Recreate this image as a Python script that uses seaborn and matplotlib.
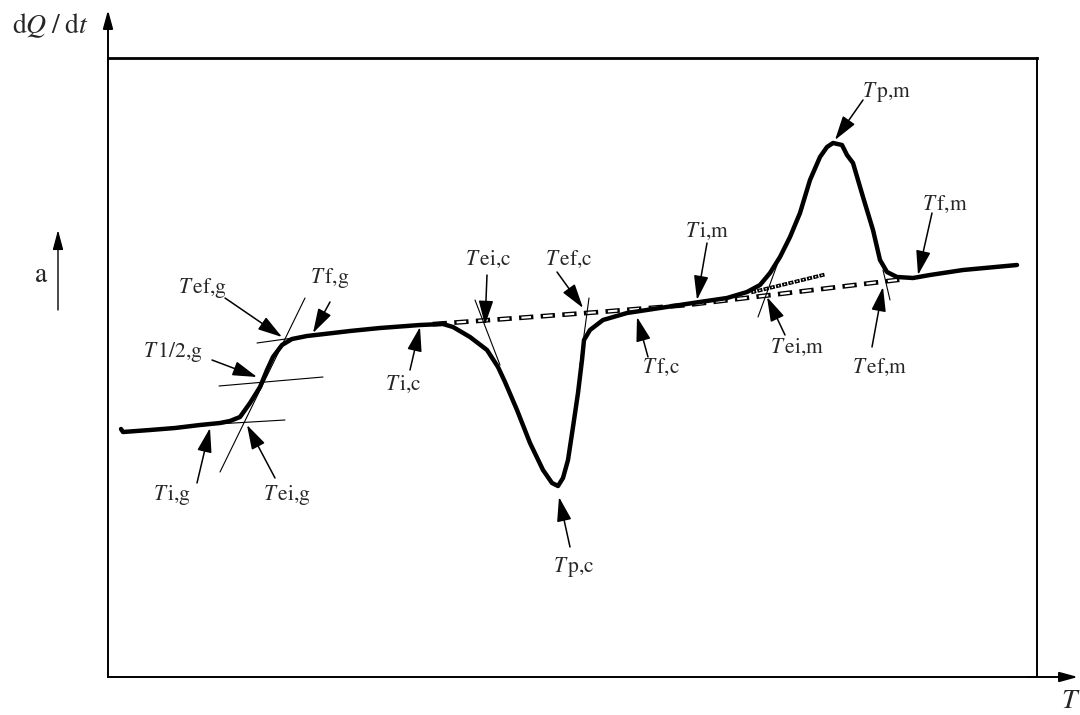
import numpy as np
import pandas as pd
import matplotlib
matplotlib.use("Agg")
import matplotlib.pyplot as plt
import matplotlib.patheffects as pe
import seaborn as sns

# ---------------- data (arbitrary units, schematic DSC curve) ----------------
curve_T = [1.3, 1.5, 4.2, 6.7, 9.2, 11.2, 12.2, 13.2, 14.2, 15.2, 15.9, 16.5, 17.4, 18.4, 19.9,
           22.5, 24.2, 27.2, 31.2, 33.5,
           34.5, 36.2, 37.9, 39.0, 39.7, 40.9, 42.2, 43.5, 44.4, 45.0, 45.5, 46.0, 46.5,
           47.0, 47.4, 47.6, 48.2, 49.5, 51.9, 55.2, 58.5, 61.9, 63.9,
           65.2, 66.2, 67.2, 68.2, 69.2, 70.2, 71.2, 71.9, 72.5, 73.4, 73.9, 74.5, 75.0,
           75.5, 76.5, 77.2, 77.9, 78.9, 80.5, 82.2, 85.5, 90.9]
curve_Q = [24.8, 24.5, 24.7, 24.9, 25.2, 25.4, 25.6, 26.0, 27.4, 29.0, 30.7, 32.0, 33.2, 33.8, 34.1,
           34.4, 34.6, 34.9, 35.2, 35.3,
           35.0, 34.0, 32.7, 31.0, 29.5, 26.7, 23.4, 20.7, 19.4, 19.1, 19.9, 21.7, 25.0,
           28.4, 31.7, 33.7, 34.7, 35.7, 36.4, 36.9, 37.4, 37.9, 38.5,
           39.2, 40.4, 42.0, 44.0, 46.4, 49.7, 52.0, 53.0, 53.4, 53.2, 52.2, 51.4, 49.7,
           48.0, 44.7, 41.7, 40.5, 40.0, 39.9, 40.2, 40.7, 41.2]

# interpolated (virtual) baseline, dashed
base_T = [32.7, 49.2, 57.9, 78.9]
base_Q = [35.3, 36.5, 37.2, 39.7]
# sigmoidal baseline start, dotted
sig_T = [64.5, 71.9]
sig_Q = [38.5, 40.3]

# construction tangents (pairs of points)
tan_T = [[11.2, 19.7], [9.2, 17.7], [11.1, 21.5], [14.9, 19.2],
         [36.7, 39.2], [48.1, 47.2], [66.9, 65.0], [77.5, 78.2]]
tan_Q = [[20.5, 37.9], [25.2, 25.7], [29.1, 30.0], [33.4, 34.0],
         [37.7, 31.2], [37.9, 31.2], [41.2, 36.0], [40.7, 37.7]]

# characteristic temperature labels
lab_sub = ["ef,g", "f,g", "1/2,g", "i,g", "ei,g", "i,c", "ei,c", "ef,c", "p,c",
           "f,c", "i,m", "ei,m", "ef,m", "p,m", "f,m"]
lab_T = [7.0, 20.2, 3.5, 4.5, 15.5, 27.7, 35.7, 43.7, 44.5, 53.4, 57.7, 66.2, 74.4, 75.4, 81.4]
lab_Q = [38.4, 39.4, 32.0, 17.7, 17.7, 28.7, 41.2, 41.2, 10.5, 30.4, 44.0, 32.4, 30.4, 58.0, 46.7]
tail_T = [11.7, 22.2, 10.4, 8.9, 16.7, 30.2, 37.9, 44.9, 46.2, 54.0, 59.9, 67.7, 76.4, 75.5, 82.4]
tail_Q = [37.9, 37.5, 31.7, 19.4, 19.9, 30.7, 40.2, 40.5, 13.0, 32.0, 43.4, 34.2, 33.0, 57.7, 46.4]
tip_T = [17.4, 20.5, 14.9, 10.2, 13.9, 31.2, 37.7, 47.5, 45.1, 52.9, 58.9, 65.9, 77.5, 72.7, 81.0]
tip_Q = [34.0, 34.4, 30.0, 24.9, 25.2, 35.0, 35.2, 36.9, 18.0, 36.0, 37.7, 38.0, 39.0, 53.7, 40.2]

# ---------------- style ----------------
sns.set_theme(style="white")
plt.rcParams["font.family"] = ["STIXGeneral", "DejaVu Serif"]
plt.rcParams["mathtext.fontset"] = "stix"

fig = plt.figure(figsize=(10.8, 7.15), dpi=100)
ax = fig.add_axes([108 / 1080, 1 - 677 / 715, (1037 - 108) / 1080, (677 - 58) / 715])
ax.set_xlim(0, 92.9)
ax.set_ylim(0, 61.9)
ax.set_xticks([])
ax.set_yticks([])
for s in ax.spines.values():
    s.set_color("black")
    s.set_linewidth(1.4)
ax.spines["top"].set_linewidth(2.0)

# axis arrows extending beyond the frame
arrow_axis = dict(arrowstyle="-|>,head_length=1.1,head_width=0.3", mutation_scale=10,
                  color="black", lw=1.4, shrinkA=0, shrinkB=0)
ax.annotate("", xy=(0, 1.0775), xytext=(0, 0.99), xycoords="axes fraction",
            arrowprops=arrow_axis, annotation_clip=False)
ax.annotate("", xy=(1.0441, 0), xytext=(0.99, 0), xycoords="axes fraction",
            arrowprops=arrow_axis, annotation_clip=False)

fig.text(12 / 1080, 1 - 33 / 715, r"$\mathrm{d}Q\;/\;\mathrm{d}t$", fontsize=20,
         ha="left", va="baseline")
fig.text(1061 / 1080, 1 - 708 / 715, r"$T$", fontsize=20, ha="left", va="baseline")

# "a" direction arrow
fig.text(35 / 1080, 1 - 282 / 715, "a", fontsize=20, ha="left", va="baseline")
ax.annotate("", xy=(58 / 1080, 1 - 230 / 715), xytext=(58 / 1080, 1 - 310 / 715),
            xycoords="figure fraction",
            arrowprops=dict(arrowstyle="-|>,head_length=1.2,head_width=0.32",
                            mutation_scale=10, color="black", lw=1.0, shrinkA=0, shrinkB=0),
            annotation_clip=False)

# dashed hollow baseline
ax.plot(base_T, base_Q, color="white", lw=1.5, dashes=(4.6, 5.8), dash_capstyle="butt",
        zorder=2,
        path_effects=[pe.Stroke(linewidth=3.4, foreground="black", capstyle="projecting"),
                      pe.Normal()])
# dotted hollow squares
ax.plot(sig_T, sig_Q, color="white", lw=1.0, dashes=(1.0, 3.6), dash_capstyle="butt",
        zorder=2,
        path_effects=[pe.Stroke(linewidth=2.7, foreground="black", capstyle="projecting"),
                      pe.Normal()])

# tangents
for tx, tq in zip(tan_T, tan_Q):
    ax.plot(tx, tq, color="black", lw=0.8, zorder=3)

# main curve
df = pd.DataFrame({"T": curve_T, "Q": curve_Q})
sns.lineplot(data=df, x="T", y="Q", sort=False, estimator=None, color="black",
             lw=3.2, ax=ax, zorder=4, solid_capstyle="round", solid_joinstyle="round")
ax.set_xlabel("")
ax.set_ylabel("")

# labels with arrows
arrow_lab = dict(arrowstyle="-|>,head_length=1.5,head_width=0.45", mutation_scale=10,
                 color="black", lw=1.1, shrinkA=0, shrinkB=0)
for sub, lx, lq, ax0, aq0, ax1, aq1 in zip(lab_sub, lab_T, lab_Q, tail_T, tail_Q, tip_T, tip_Q):
    ax.text(lx, lq, r"$T\,$" + sub, fontsize=15.5, ha="left", va="baseline", zorder=5)
    ax.annotate("", xy=(ax1, aq1), xytext=(ax0, aq0), arrowprops=arrow_lab, zorder=5)

fig.savefig("out.png", dpi=100)
